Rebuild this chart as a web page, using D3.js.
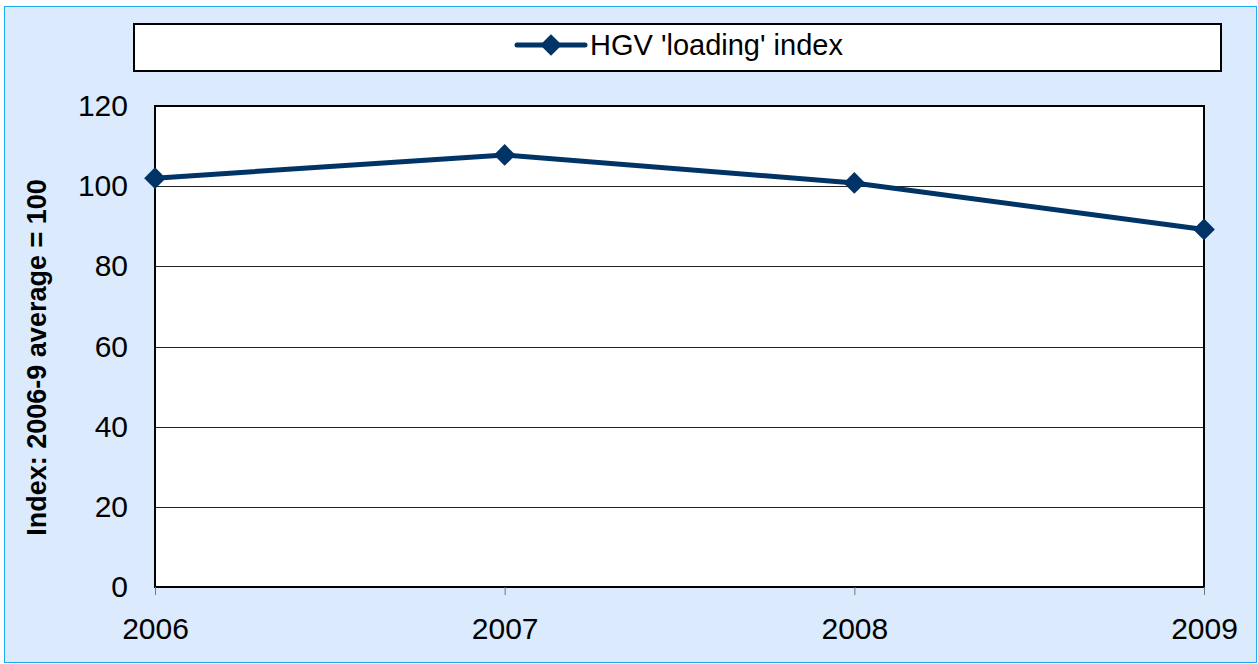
<!DOCTYPE html>
<html>
<head>
<meta charset="utf-8">
<script src="https://cdn.jsdelivr.net/npm/d3@7"></script>
<style>
  body { margin: 0; background: #fff; }
  svg { display: block; font-family: Arial, "Liberation Sans", sans-serif; }
</style>
</head>
<body>
<div class="svg-container"></div>
<script>
var years = ["2006", "2007", "2008", "2009"];
var loadingIndex = [102, 107.8, 100.8, 89.2];
var yTicks = [0, 20, 40, 60, 80, 100, 120];
var seriesName = "HGV 'loading' index";
var yTitle = "Index: 2006-9 average = 100";

var w = 1258, h = 664;
var lineColor = "#003366";

var svg = d3.select(".svg-container").append("svg")
    .attr("width", w)
    .attr("height", h);

// chart background with light blue frame
svg.append("rect")
    .attr("x", 4.5).attr("y", 6.5)
    .attr("width", 1252).attr("height", 656)
    .attr("fill", "#dbeafc")
    .attr("stroke", "#1eaaf0")
    .attr("stroke-width", 1);

var plot = {left: 155, top: 106, right: 1204, bottom: 587};

var x = d3.scalePoint()
    .domain(years)
    .range([plot.left, plot.right]);

var y = d3.scaleLinear()
    .domain([0, 120])
    .range([plot.bottom, plot.top]);

// plot area
svg.append("rect")
    .attr("x", plot.left).attr("y", plot.top)
    .attr("width", plot.right - plot.left)
    .attr("height", plot.bottom - plot.top)
    .attr("fill", "#fff");

// gridlines
svg.append("g")
    .selectAll("line")
    .data(yTicks.filter(function(d) { return d > 0 && d < 120; }))
    .enter().append("line")
    .attr("x1", plot.left).attr("x2", plot.right)
    .attr("y1", function(d) { return Math.round(y(d)) + 0.5; })
    .attr("y2", function(d) { return Math.round(y(d)) + 0.5; })
    .attr("stroke", "#222")
    .attr("stroke-width", 1);

// plot border
svg.append("rect")
    .attr("x", plot.left).attr("y", plot.top)
    .attr("width", plot.right - plot.left)
    .attr("height", plot.bottom - plot.top)
    .attr("fill", "none")
    .attr("stroke", "#000")
    .attr("stroke-width", 2);

// y axis labels
var yAxis = d3.axisLeft(y).tickValues(yTicks).tickSize(0).tickPadding(27);
var gy = svg.append("g")
    .attr("transform", "translate(" + plot.left + ",0)")
    .call(yAxis);
gy.select(".domain").remove();
gy.attr("font-size", 30).attr("font-family", null);
gy.selectAll("text").attr("fill", "#000");

// x axis
var xAxis = d3.axisBottom(x).tickSize(8).tickPadding(23);
var gx = svg.append("g")
    .attr("transform", "translate(0," + plot.bottom + ")")
    .call(xAxis);
gx.select(".domain").remove();
gx.attr("font-size", 30).attr("font-family", null);
gx.selectAll("line").attr("stroke", "#777").attr("stroke-width", 1);
gx.selectAll("text").attr("fill", "#000");

// y axis title
svg.append("text")
    .attr("transform", "translate(46," + ((plot.top + plot.bottom) / 2 + 11) + ") rotate(-90)")
    .attr("text-anchor", "middle")
    .attr("font-size", 27)
    .attr("font-weight", "bold")
    .text(yTitle);

// series line
var line = d3.line()
    .x(function(d, i) { return x(years[i]); })
    .y(function(d) { return y(d); });

svg.append("path")
    .datum(loadingIndex)
    .attr("d", line)
    .attr("fill", "none")
    .attr("stroke", lineColor)
    .attr("stroke-width", 5)
    .attr("stroke-linejoin", "round");

var diamond = d3.symbol().type(d3.symbolDiamond2).size(300);

svg.append("g")
    .selectAll("path")
    .data(loadingIndex)
    .enter().append("path")
    .attr("d", diamond)
    .attr("transform", function(d, i) {
        return "translate(" + x(years[i]) + "," + y(d) + ")";
    })
    .attr("fill", lineColor);

// legend
svg.append("rect")
    .attr("x", 134).attr("y", 24)
    .attr("width", 1087).attr("height", 47)
    .attr("fill", "#fff")
    .attr("stroke", "#000")
    .attr("stroke-width", 2);

svg.append("line")
    .attr("x1", 517).attr("x2", 585)
    .attr("y1", 45).attr("y2", 45)
    .attr("stroke", lineColor)
    .attr("stroke-width", 5)
    .attr("stroke-linecap", "round");

svg.append("path")
    .attr("d", diamond)
    .attr("transform", "translate(551,45)")
    .attr("fill", lineColor);

svg.append("text")
    .attr("x", 590).attr("y", 55)
    .attr("font-size", 29)
    .text(seriesName);
</script>
</body>
</html>
